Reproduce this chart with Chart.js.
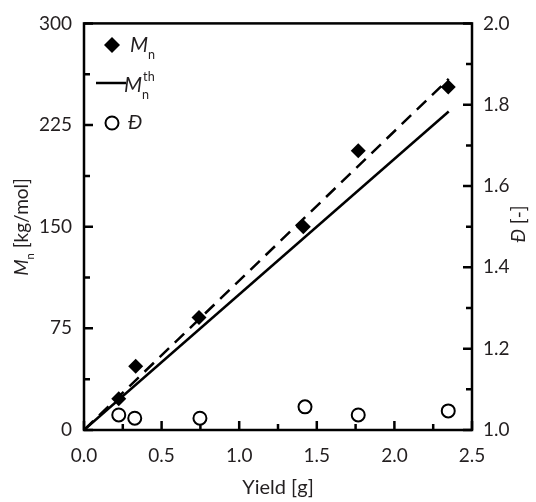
<!DOCTYPE html>
<html>
<head>
<meta charset="utf-8">
<script src="https://cdn.jsdelivr.net/npm/chart.js@4.4.1/dist/chart.umd.min.js"></script>
<style>
  html, body { margin: 0; padding: 0; background: #fff; }
  #wrap { width: 536px; height: 502px; position: relative; }
</style>
</head>
<body>
<div id="wrap"><canvas id="molarChart"></canvas></div>
<script>
// measured values
const yieldMn = [0.224, 0.333, 0.741, 1.413, 1.767, 2.347];
const mnValues = [23, 47, 83, 150, 206, 253];
const yieldD = [0.224, 0.327, 0.747, 1.424, 1.767, 2.347];
const dispersity = [1.037, 1.029, 1.029, 1.057, 1.037, 1.047];
const theoryX = [0, 2.35];
const theoryMn = [0, 235];
const fitX = [0, 2.35];
const fitMn = [0, 259];

const xTicks = [0, 0.5, 1.0, 1.5, 2.0, 2.5];
const yTicks = [0, 75, 150, 225, 300];
const y2Ticks = [1.0, 1.2, 1.4, 1.6, 1.8, 2.0];

const FONT = 'Lato, "Open Sans", sans-serif';
const TXT = '#231f20';

const pts = (xs, ys) => xs.map((x, i) => ({ x: x, y: ys[i] }));

// draws text pieces with italic / sub / sup parts
function richText(ctx, parts, x, y, size, align) {
    let w = 0;
    const measured = parts.map(p => {
        const fs = p.sub || p.sup ? size * 0.6 : size;
        const font = (p.italic ? 'italic ' : '') + fs + 'px ' + FONT;
        ctx.font = font;
        const pw = ctx.measureText(p.t).width;
        const m = { p, font, pw, adv: p.noAdv ? 0 : pw };
        w += m.adv;
        return m;
    });
    let cx = align === 'center' ? x - w / 2 : x;
    ctx.textBaseline = 'middle';
    ctx.textAlign = 'left';
    ctx.fillStyle = TXT;
    measured.forEach(m => {
        ctx.font = m.font;
        let dy = 0;
        if (m.p.sub) dy = size * 0.45;
        if (m.p.sup) dy = -size * 0.4;
        ctx.fillText(m.p.t, cx + (m.p.dx || 0), y + dy);
        cx += m.adv;
    });
}

const framePlugin = {
    id: 'frame',
    afterDraw(chart) {
        const ctx = chart.ctx;
        const a = chart.chartArea;
        const sx = chart.scales.x, sy = chart.scales.y, sy2 = chart.scales.y2;
        ctx.save();
        ctx.strokeStyle = '#000';
        ctx.lineWidth = 2.5;
        ctx.strokeRect(a.left, a.top, a.right - a.left, a.bottom - a.top);
        ctx.beginPath();
        // x ticks, pointing up
        for (let v = 0; v <= 2.5001; v += 0.25) {
            const px = sx.getPixelForValue(v);
            const major = Math.abs(v / 0.5 - Math.round(v / 0.5)) < 1e-6;
            ctx.moveTo(px, a.bottom);
            ctx.lineTo(px, a.bottom - (major ? 9 : 6));
        }
        // left ticks
        for (let v = 0; v <= 300.01; v += 37.5) {
            const py = sy.getPixelForValue(v);
            const major = Math.abs(v / 75 - Math.round(v / 75)) < 1e-6;
            ctx.moveTo(a.left, py);
            ctx.lineTo(a.left + (major ? 9 : 6), py);
        }
        // right ticks
        for (let i = 0; i <= 10; i++) {
            const v = 1 + i * 0.1;
            const py = sy2.getPixelForValue(v);
            ctx.moveTo(a.right, py);
            ctx.lineTo(a.right - (i % 2 === 0 ? 9 : 6), py);
        }
        ctx.stroke();

        // axis titles
        richText(ctx, [{ t: 'Yield [g]' }], (a.left + a.right) / 2, 488, 20, 'center');

        ctx.save();
        ctx.translate(22, 227);
        ctx.rotate(-Math.PI / 2);
        richText(ctx, [{ t: 'M', italic: true }, { t: 'n', sub: true }, { t: ' [kg/mol]' }], 0, 0, 19, 'center');
        ctx.restore();

        ctx.save();
        ctx.translate(519, 224);
        ctx.rotate(-Math.PI / 2);
        richText(ctx, [{ t: 'Đ', italic: true }, { t: ' [-]' }], 0, 0, 19, 'center');
        ctx.restore();

        // legend
        ctx.fillStyle = '#000';
        ctx.beginPath();
        ctx.moveTo(112, 37); ctx.lineTo(120, 45); ctx.lineTo(112, 53); ctx.lineTo(104, 45);
        ctx.closePath();
        ctx.fill();
        richText(ctx, [{ t: 'M', italic: true }, { t: 'n', sub: true }], 130, 45, 21, 'left');

        ctx.lineWidth = 2.5;
        ctx.beginPath();
        ctx.moveTo(96, 83); ctx.lineTo(126, 83);
        ctx.stroke();
        richText(ctx, [{ t: 'M', italic: true }, { t: 'th', sup: true, noAdv: true, dx: 1 }, { t: 'n', sub: true }], 124, 85, 21, 'left');

        ctx.lineWidth = 2;
        ctx.fillStyle = '#fff';
        ctx.beginPath();
        ctx.arc(112, 123, 6.5, 0, Math.PI * 2);
        ctx.fill();
        ctx.stroke();
        richText(ctx, [{ t: 'Đ', italic: true }], 128, 123, 20, 'left');
        ctx.restore();
    }
};

const ctx = document.getElementById('molarChart').getContext('2d');
new Chart(ctx, {
    type: 'scatter',
    data: {
        datasets: [
            {
                label: 'Mn fit',
                type: 'line',
                data: pts(fitX, fitMn),
                borderColor: '#000',
                borderWidth: 2.5,
                borderDash: [13, 8],
                pointRadius: 0,
                fill: false,
                yAxisID: 'y'
            },
            {
                label: 'Mn th',
                type: 'line',
                data: pts(theoryX, theoryMn),
                borderColor: '#000',
                borderWidth: 2.5,
                pointRadius: 0,
                fill: false,
                yAxisID: 'y'
            },
            {
                label: 'Mn',
                data: pts(yieldMn, mnValues),
                pointStyle: 'rectRot',
                pointRadius: 7.5,
                backgroundColor: '#000',
                borderColor: '#000',
                borderWidth: 0,
                yAxisID: 'y'
            },
            {
                label: 'D',
                data: pts(yieldD, dispersity),
                pointStyle: 'circle',
                pointRadius: 6.5,
                backgroundColor: '#fff',
                borderColor: '#000',
                borderWidth: 2,
                yAxisID: 'y2'
            }
        ]
    },
    options: {
        responsive: true,
        maintainAspectRatio: false,
        animation: false,
        layout: { padding: { top: 23, left: 0, right: 0, bottom: 0 } },
        plugins: {
            legend: { display: false },
            tooltip: { enabled: false }
        },
        scales: {
            x: {
                type: 'linear',
                min: 0,
                max: 2.5,
                afterFit: (s) => { s.height = 72; },
                afterBuildTicks: (s) => { s.ticks = xTicks.map(v => ({ value: v })); },
                grid: { display: true, drawOnChartArea: false, drawTicks: false },
                border: { display: false },
                ticks: {
                    padding: 14,
                    color: TXT,
                    font: { family: FONT, size: 19 },
                    callback: (v) => v.toFixed(1)
                }
            },
            y: {
                type: 'linear',
                position: 'left',
                min: 0,
                max: 300,
                afterFit: (s) => { s.width = 84; },
                afterBuildTicks: (s) => { s.ticks = yTicks.map(v => ({ value: v })); },
                grid: { display: true, drawOnChartArea: false, drawTicks: false },
                border: { display: false },
                ticks: {
                    padding: 12,
                    color: TXT,
                    font: { family: FONT, size: 19 }
                }
            },
            y2: {
                type: 'linear',
                position: 'right',
                min: 1,
                max: 2,
                afterFit: (s) => { s.width = 64; },
                afterBuildTicks: (s) => { s.ticks = y2Ticks.map(v => ({ value: v })); },
                grid: { display: true, drawOnChartArea: false, drawTicks: false },
                border: { display: false },
                ticks: {
                    padding: 11,
                    color: TXT,
                    font: { family: FONT, size: 19 },
                    callback: (v) => v.toFixed(1)
                }
            }
        }
    },
    plugins: [framePlugin]
});
</script>
</body>
</html>
